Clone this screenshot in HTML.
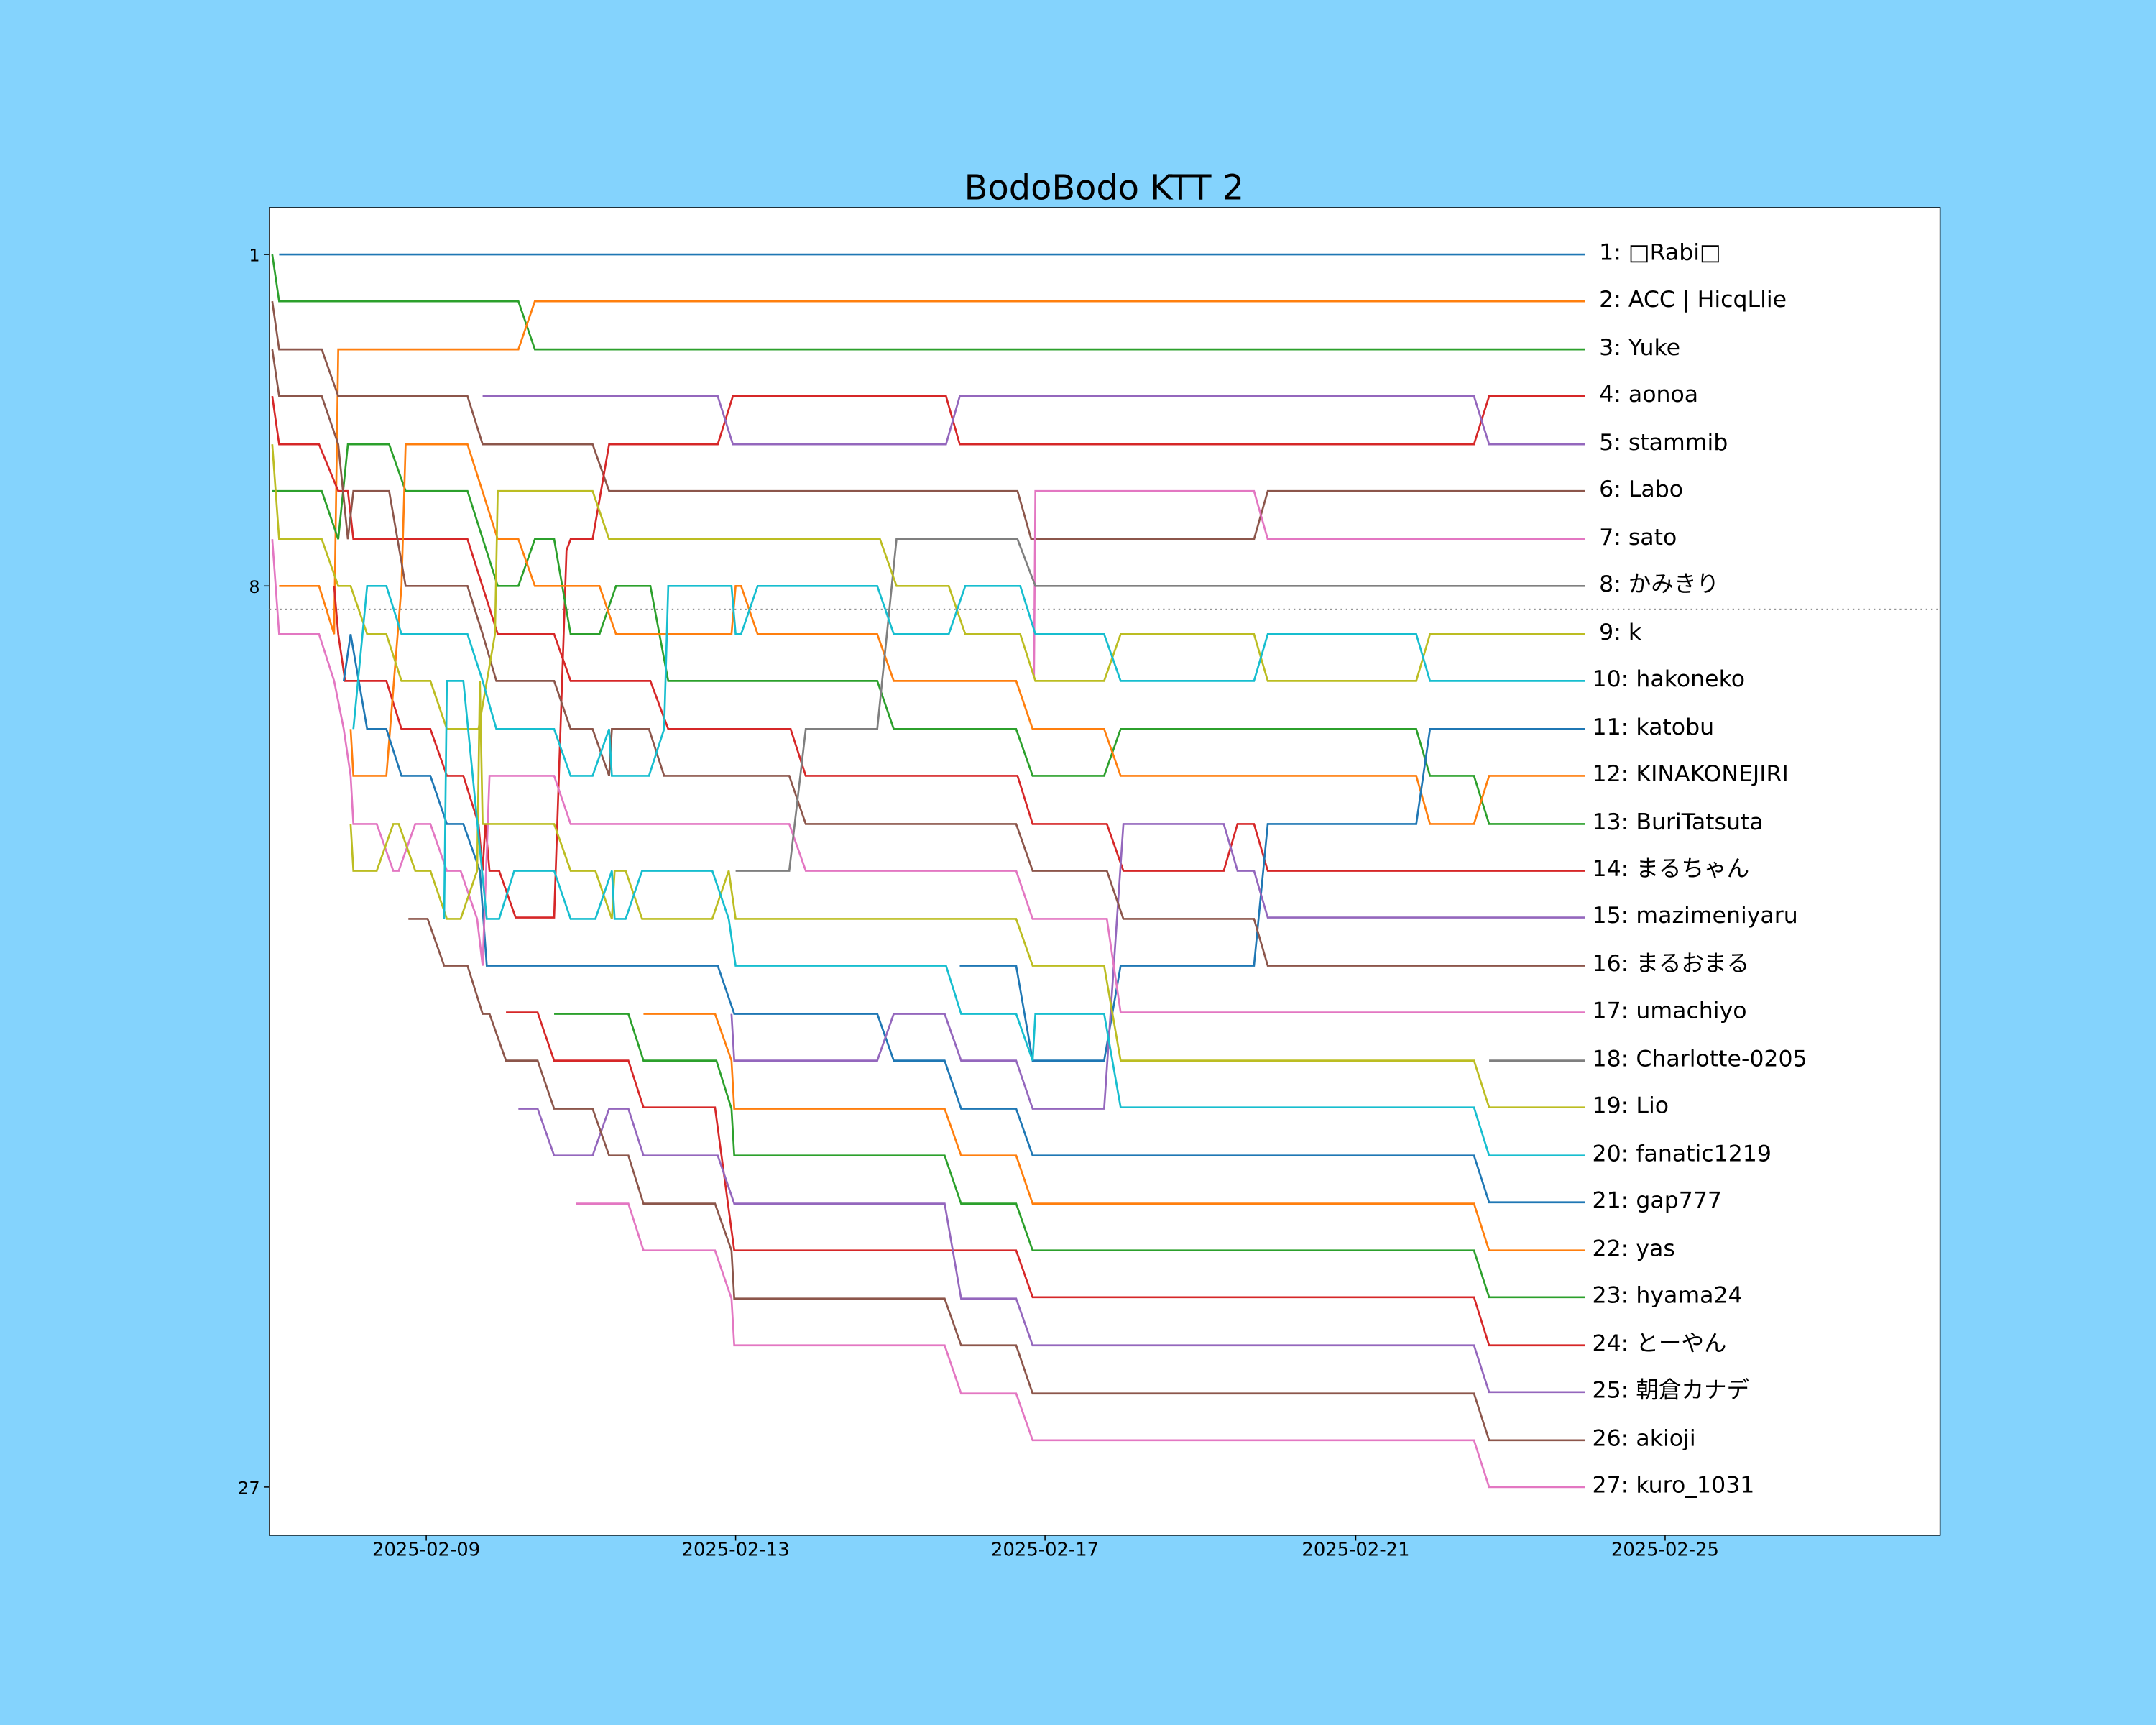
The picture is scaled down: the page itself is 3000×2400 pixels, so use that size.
<!DOCTYPE html>
<html><head><meta charset="utf-8"><style>
html,body{margin:0;padding:0;background:#84d3fd;}
svg{display:block}
text{font-family:"DejaVu Sans","Liberation Sans","Noto Sans CJK JP",sans-serif;}
</style></head><body>
<svg width="3000" height="2400" viewBox="0 0 1568 1254" preserveAspectRatio="none" xmlns="http://www.w3.org/2000/svg">
<rect x="0" y="0" width="1568" height="1254" fill="#84d3fd"/>
<rect x="196" y="151" width="1215" height="965" fill="#ffffff" stroke="#000" stroke-width="0.8"/>
<text x="803" y="145" font-size="25" text-anchor="middle" fill="#000">BodoBodo KTT 2</text>
<line x1="196" y1="443" x2="1411" y2="443" stroke="#707070" stroke-width="1" stroke-dasharray="1.2,2.6"/>
<g font-size="12.5" fill="#000" text-anchor="end">
<line x1="192" y1="185" x2="196" y2="185" stroke="#000" stroke-width="0.8"/><text x="189" y="190">1</text>
<line x1="192" y1="426" x2="196" y2="426" stroke="#000" stroke-width="0.8"/><text x="189" y="431">8</text>
<line x1="192" y1="1081" x2="196" y2="1081" stroke="#000" stroke-width="0.8"/><text x="189" y="1086">27</text>
</g>
<g font-size="13.5" fill="#000" text-anchor="middle">
<line x1="310" y1="1116" x2="310" y2="1120" stroke="#000" stroke-width="0.8"/><text x="310" y="1131">2025-02-09</text>
<line x1="535" y1="1116" x2="535" y2="1120" stroke="#000" stroke-width="0.8"/><text x="535" y="1131">2025-02-13</text>
<line x1="760" y1="1116" x2="760" y2="1120" stroke="#000" stroke-width="0.8"/><text x="760" y="1131">2025-02-17</text>
<line x1="986" y1="1116" x2="986" y2="1120" stroke="#000" stroke-width="0.8"/><text x="986" y="1131">2025-02-21</text>
<line x1="1211" y1="1116" x2="1211" y2="1120" stroke="#000" stroke-width="0.8"/><text x="1211" y="1131">2025-02-25</text>
</g>
<g fill="none" stroke-width="1.4" stroke-linejoin="miter">
<polyline stroke="#1f77b4" points="203,185 1153,185"/>
<polyline stroke="#2ca02c" points="198,185 203,219 377,219 389,254 1153,254"/>
<polyline stroke="#ff7f0e" points="203,426 232,426 243,461 246,254 377,254 389,219 1153,219"/>
<polyline stroke="#8c564b" points="198,219 203,254 234,254 246,288 340,288 351,323 431,323 443,357 740,357 750,392 912,392 922,357 1153,357"/>
<polyline stroke="#d62728" points="198,288 203,323 232,323 246,357 253,357 257,392 340,392 362,461 403,461 415,495 473,495 486,530 575,530 586,564 740,564 751,599 805,599 817,633 890,633 900,599 912,599 922,633 1153,633"/>
<polyline stroke="#d62728" points="243,426 246,461 251,495 281,495 292,530 313,530 325,564 337,564 348,599 351,633 353,599 356,633 363,633 375,667 403,667 412,400 415,392 431,392 443,323 522,323 533,288 688,288 698,323 1072,323 1083,288 1153,288"/>
<polyline stroke="#d62728" points="368,736 391,736 403,771 457,771 468,805 520,805 534,909 739,909 751,943 1072,943 1083,978 1153,978"/>
<polyline stroke="#2ca02c" points="198,357 234,357 246,392 253,323 283,323 295,357 340,357 362,426 377,426 389,392 403,392 415,461 436,461 448,426 473,426 486,495 638,495 650,530 739,530 751,564 803,564 815,530 1030,530 1040,564 1072,564 1083,599 1153,599"/>
<polyline stroke="#2ca02c" points="403,737 457,737 468,771 521,771 532,806 534,840 687,840 699,875 739,875 751,909 1072,909 1083,943 1153,943"/>
<polyline stroke="#ff7f0e" points="255,530 257,564 281,564 292,426 295,323 340,323 362,392 377,392 389,426 436,426 448,461 532,461 535,426 539,426 551,461 638,461 650,495 739,495 751,530 803,530 815,564 1030,564 1040,599 1072,599 1083,564 1153,564"/>
<polyline stroke="#ff7f0e" points="468,737 520,737 532,771 534,806 687,806 699,840 739,840 751,875 1072,875 1083,909 1153,909"/>
<polyline stroke="#1f77b4" points="250,495 255,461 267,530 281,530 292,564 313,564 325,599 337,599 349,633 354,702 522,702 534,737 638,737 650,771 687,771 699,806 739,806 751,840 1072,840 1083,874 1153,874"/>
<polyline stroke="#1f77b4" points="698,702 739,702 751,771 803,771 815,702 912,702 922,599 1030,599 1040,530 1153,530"/>
<polyline stroke="#9467bd" points="351,288 522,288 533,323 688,323 698,288 1072,288 1083,323 1153,323"/>
<polyline stroke="#9467bd" points="532,737 534,771 638,771 650,737 687,737 699,771 739,771 751,806 803,806 817,599 890,599 900,633 912,633 922,667 1153,667"/>
<polyline stroke="#9467bd" points="377,806 391,806 403,840 431,840 443,806 457,806 468,840 522,840 534,875 687,875 699,944 739,944 751,978 1072,978 1083,1012 1153,1012"/>
<polyline stroke="#8c564b" points="198,254 203,288 234,288 246,323 253,392 257,357 283,357 295,426 340,426 351,461 361,495 403,495 415,530 431,530 443,564 445,530 472,530 483,564 574,564 586,599 739,599 751,633 805,633 817,668 912,668 922,702 1153,702"/>
<polyline stroke="#8c564b" points="297,668 311,668 323,702 340,702 351,737 356,737 368,771 391,771 403,806 431,806 443,840 457,840 468,875 520,875 532,909 534,944 687,944 699,978 739,978 751,1013 1072,1013 1083,1047 1153,1047"/>
<polyline stroke="#e377c2" points="752,492 753,357 912,357 922,392 1153,392"/>
<polyline stroke="#e377c2" points="198,392 203,461 232,461 243,495 250,530 255,564 257,599 274,599 286,633 290,633 302,599 313,599 325,633 335,633 347,668 351,702 356,564 403,564 415,599 574,599 586,633 739,633 751,668 805,668 815,736 1153,736"/>
<polyline stroke="#e377c2" points="419,875 457,875 468,909 520,909 532,944 534,978 687,978 699,1013 739,1013 751,1047 1072,1047 1083,1081 1153,1081"/>
<polyline stroke="#7f7f7f" points="535,633 574,633 586,530 638,530 652,392 740,392 753,426 1153,426"/>
<polyline stroke="#7f7f7f" points="1083,771 1153,771"/>
<polyline stroke="#bcbd22" points="198,323 203,392 234,392 246,426 255,426 267,461 281,461 292,495 313,495 325,530 348,530 360,461 362,357 431,357 443,392 640,392 652,426 690,426 702,461 742,461 753,495 803,495 815,461 912,461 922,495 1030,495 1040,461 1153,461"/>
<polyline stroke="#bcbd22" points="255,599 257,633 274,633 286,599 290,599 302,633 313,633 325,668 335,668 347,633 349,495 351,599 356,599 403,599 415,633 433,633 445,668 447,633 455,633 467,668 518,668 530,633 535,668 739,668 751,702 803,702 815,771 1072,771 1083,805 1153,805"/>
<polyline stroke="#17becf" points="257,530 267,426 281,426 292,461 340,461 351,495 361,530 403,530 415,564 431,564 443,530 445,564 472,564 483,530 486,426 532,426 535,461 539,461 551,426 638,426 650,461 690,461 702,426 742,426 753,461 803,461 815,495 912,495 922,461 1030,461 1040,495 1153,495"/>
<polyline stroke="#17becf" points="323,668 325,495 337,495 354,668 363,668 374,633 403,633 415,668 433,668 445,633 447,668 455,668 467,633 518,633 530,668 535,702 688,702 699,737 739,737 751,771 753,737 803,737 815,805 1072,805 1083,840 1153,840"/>
</g>
<g font-size="16.5" fill="#000">
<text x="1163" y="189">1: □Rabi□</text>
<text x="1163" y="223">2: ACC | HicqLlie</text>
<text x="1163" y="258">3: Yuke</text>
<text x="1163" y="292">4: aonoa</text>
<text x="1163" y="327">5: stammib</text>
<text x="1163" y="361">6: Labo</text>
<text x="1163" y="396">7: sato</text>
<text x="1163" y="430">8: かみきり</text>
<text x="1163" y="465">9: k</text>
<text x="1158" y="499">10: hakoneko</text>
<text x="1158" y="534">11: katobu</text>
<text x="1158" y="568">12: KINAKONEJIRI</text>
<text x="1158" y="603">13: BuriTatsuta</text>
<text x="1158" y="637">14: まるちゃん</text>
<text x="1158" y="671">15: mazimeniyaru</text>
<text x="1158" y="706">16: まるおまる</text>
<text x="1158" y="740">17: umachiyo</text>
<text x="1158" y="775">18: Charlotte-0205</text>
<text x="1158" y="809">19: Lio</text>
<text x="1158" y="844">20: fanatic1219</text>
<text x="1158" y="878">21: gap777</text>
<text x="1158" y="913">22: yas</text>
<text x="1158" y="947">23: hyama24</text>
<text x="1158" y="982">24: とーやん</text>
<text x="1158" y="1016">25: 朝倉カナデ</text>
<text x="1158" y="1051">26: akioji</text>
<text x="1158" y="1085">27: kuro_1031</text>
</g>
</svg>
</body></html>
